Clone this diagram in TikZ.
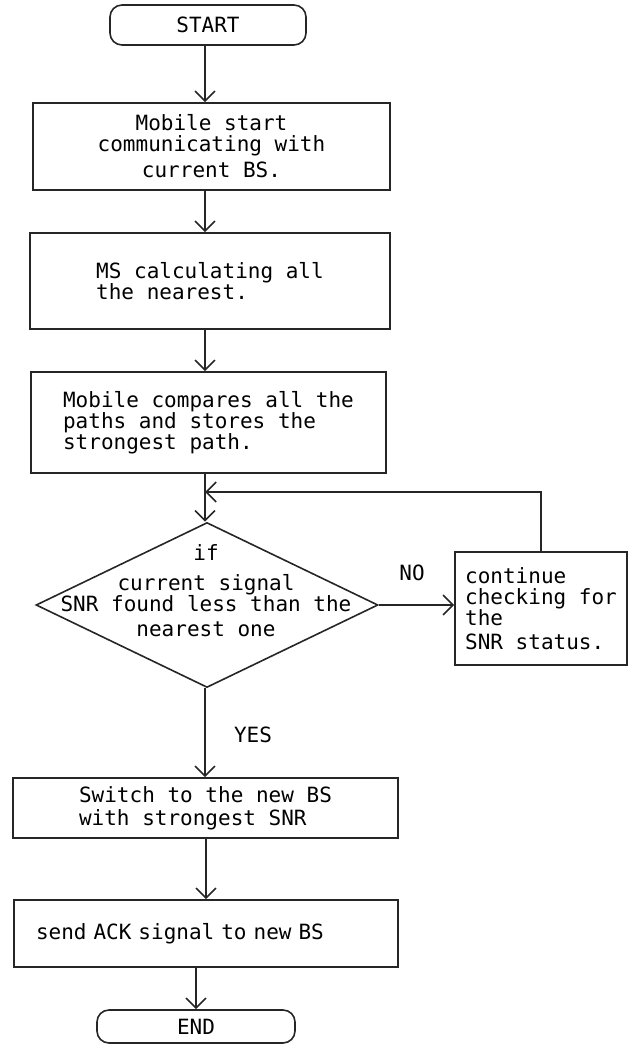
\documentclass[tikz,border=0pt]{standalone}
\usepackage{fontspec}
\setmonofont{DejaVu Sans Mono}
\usetikzlibrary{shapes.geometric, arrows.meta, positioning}

\begin{document}
\begin{tikzpicture}[x=0.5pt, y=-0.5pt,
  every node/.style={font=\ttfamily\fontsize{10.5}{10.5}\selectfont, text=black},
  terminal/.style={draw=black!85, line width=0.8pt, rounded corners=6pt, inner sep=0pt},
  procbox/.style={draw=black!85, line width=0.8pt, inner sep=3pt},
  decision/.style={draw=black!85, line width=0.8pt, diamond, inner sep=0pt},
  flowarrow/.style={draw=black!85, line width=0.8pt, -{Straight Barb[length=5pt,width=10pt]}}
]
  \useasboundingbox (0,0) rectangle (631,1047);

  \coordinate (col) at (205,0);
  \node[terminal, minimum width=98pt, minimum height=20pt] (start) at (208,25) {START};
  \node[procbox, minimum width=178.5pt, minimum height=43.5pt, align=center] (comm) at (211.5,146.5)
    {Mobile start\\communicating with\\[2.5pt]current BS.};
  \node[procbox, minimum width=180pt, minimum height=48pt, align=left] (calc) at (210,281)
    {MS calculating all\\the nearest.};
  \node[procbox, minimum width=177.5pt, minimum height=50.5pt, align=left] (comp) at (208.5,422.5)
    {Mobile compares all the\\paths and stores the\\strongest path.};
  \node[decision, minimum width=171pt, minimum height=82.5pt] (check) at (207,605) {};
  \node[align=center, inner sep=0pt] (checktext) at (206,591)
    {if\\[4.5pt]current signal\\SNR found less than the\\[2pt]nearest one};
  \node[procbox, minimum width=86pt, minimum height=56.5pt, align=left] (cont) at (541,608.5)
    {continue\\checking for\\the\\[1.5pt]SNR status.};
  \node[procbox, minimum width=192.5pt, minimum height=30pt, align=left] (switch) at (205.5,808)
    {Switch to the new BS\\[1pt]with strongest SNR};
  \node[procbox, minimum width=192pt, minimum height=33.5pt, text width=170pt, align=left] (ack) at (206,933.5)
    {send ACK signal to new BS};
  \node[terminal, minimum width=99pt, minimum height=16.5pt] (end) at (196,1026.5) {END};

  \node (no) at (412,573) {NO};
  \node (yes) at (253,735) {YES};
  \coordinate (join) at (205,492);

  \draw[flowarrow] (start.south -| col) -- (comm.north -| col);
  \draw[flowarrow] (comm.south -| col) -- (calc.north -| col);
  \draw[flowarrow] (calc.south -| col) -- (comp.north -| col);
  \draw[flowarrow] (comp.south -| col) -- (check.north -| col);
  \draw[flowarrow] (cont.north) |- (join);
  \draw[flowarrow] (check.east) -- (check.east -| cont.west);
  \draw[flowarrow] (check.south -| col) -- (switch.north -| col);
  \draw[flowarrow] (switch.south -| ack.north) -- (ack.north);
  \draw[flowarrow] (ack.south -| end.north) -- (end.north);
\end{tikzpicture}
\end{document}
